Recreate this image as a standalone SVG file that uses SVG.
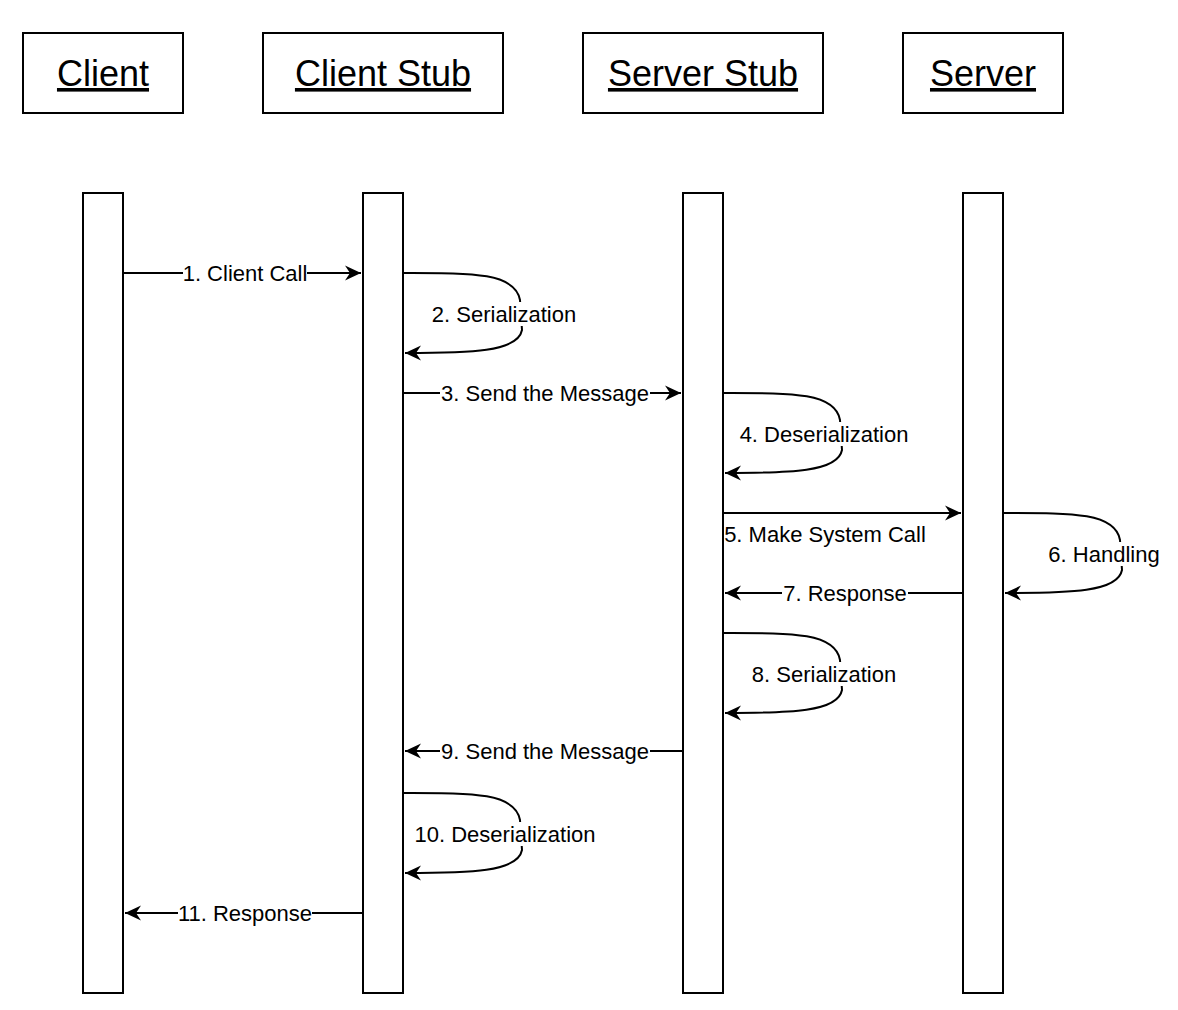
<svg xmlns="http://www.w3.org/2000/svg" width="1178" height="1010" viewBox="0 0 1178 1010">
<defs>
<style>
.box{fill:#fff;stroke:#000;stroke-width:2}
.life{fill:#fff;stroke:#000;stroke-width:2}
.title{font-family:"Liberation Sans",Arial,sans-serif;font-size:36px;text-anchor:middle;fill:#000;text-decoration:underline}
.lbl{font-family:"Liberation Sans",Arial,sans-serif;font-size:22px;text-anchor:middle;fill:#000}
.edge{fill:none;stroke:#000;stroke-width:2;marker-end:url(#arr)}
.bg{fill:#fff}
</style>
<marker id="arr" markerUnits="userSpaceOnUse" markerWidth="20" markerHeight="20" viewBox="-18 -10 20 20" refX="0" refY="0" orient="auto">
<path d="M0,0 L-16,-7.5 L-11,0 L-16,7.5 Z" fill="#000"/>
</marker>
</defs>
<g id="client"><rect class="box" x="23" y="33" width="160" height="80"/><text class="title" x="103" y="86">Client</text></g>
<g id="client-stub"><rect class="box" x="263" y="33" width="240" height="80"/><text class="title" x="383" y="86">Client Stub</text></g>
<g id="server-stub"><rect class="box" x="583" y="33" width="240" height="80"/><text class="title" x="703" y="86">Server Stub</text></g>
<g id="server"><rect class="box" x="903" y="33" width="160" height="80"/><text class="title" x="983" y="86">Server</text></g>
<g id="client-life"><rect class="life" x="83" y="193" width="40" height="800"/></g>
<g id="client-stub-life"><rect class="life" x="363" y="193" width="40" height="800"/></g>
<g id="server-stub-life"><rect class="life" x="683" y="193" width="40" height="800"/></g>
<g id="server-life"><rect class="life" x="963" y="193" width="40" height="800"/></g>
<g id="connectors">
<path class="edge" d="M123,273 L361,273"/>
<rect class="bg" x="183" y="261" width="124" height="24"/>
<text class="lbl" x="245" y="281">1. Client Call</text>

<path class="edge" d="M403,273 C470,273 515,272 520,300 L522,330 C518,352 470,353 405,353"/>
<rect class="bg" x="432" y="302" width="145" height="24"/>
<text class="lbl" x="504" y="322">2. Serialization</text>

<path class="edge" d="M403,393 L681,393"/>
<rect class="bg" x="440" y="381" width="210" height="24"/>
<text class="lbl" x="545" y="401">3. Send the Message</text>

<path class="edge" d="M723,393 C790,393 835,392 840,420 L842,450 C838,472 790,473 725,473"/>
<rect class="bg" x="740" y="422" width="169" height="24"/>
<text class="lbl" x="824" y="442">4. Deserialization</text>

<path class="edge" d="M723,513 L961,513"/>
<text class="lbl" x="825" y="542">5. Make System Call</text>

<path class="edge" d="M1003,513 C1070,513 1115,512 1120,540 L1122,570 C1118,592 1070,593 1005,593"/>
<rect class="bg" x="1048" y="542" width="113" height="24"/>
<text class="lbl" x="1104" y="562">6. Handling</text>

<path class="edge" d="M963,593 L725,593"/>
<rect class="bg" x="782" y="581" width="126" height="24"/>
<text class="lbl" x="845" y="601">7. Response</text>

<path class="edge" d="M723,633 C790,633 835,632 840,660 L842,690 C838,712 790,713 725,713"/>
<rect class="bg" x="752" y="662" width="145" height="24"/>
<text class="lbl" x="824" y="682">8. Serialization</text>

<path class="edge" d="M683,751 L405,751"/>
<rect class="bg" x="440" y="739" width="210" height="24"/>
<text class="lbl" x="545" y="759">9. Send the Message</text>

<path class="edge" d="M403,793 C470,793 515,792 520,820 L522,850 C518,872 470,873 405,873"/>
<rect class="bg" x="414" y="822" width="182" height="24"/>
<text class="lbl" x="505" y="842">10. Deserialization</text>

<path class="edge" d="M363,913 L125,913"/>
<rect class="bg" x="178" y="901" width="134" height="24"/>
<text class="lbl" x="245" y="921">11. Response</text>
</g>
</svg>
